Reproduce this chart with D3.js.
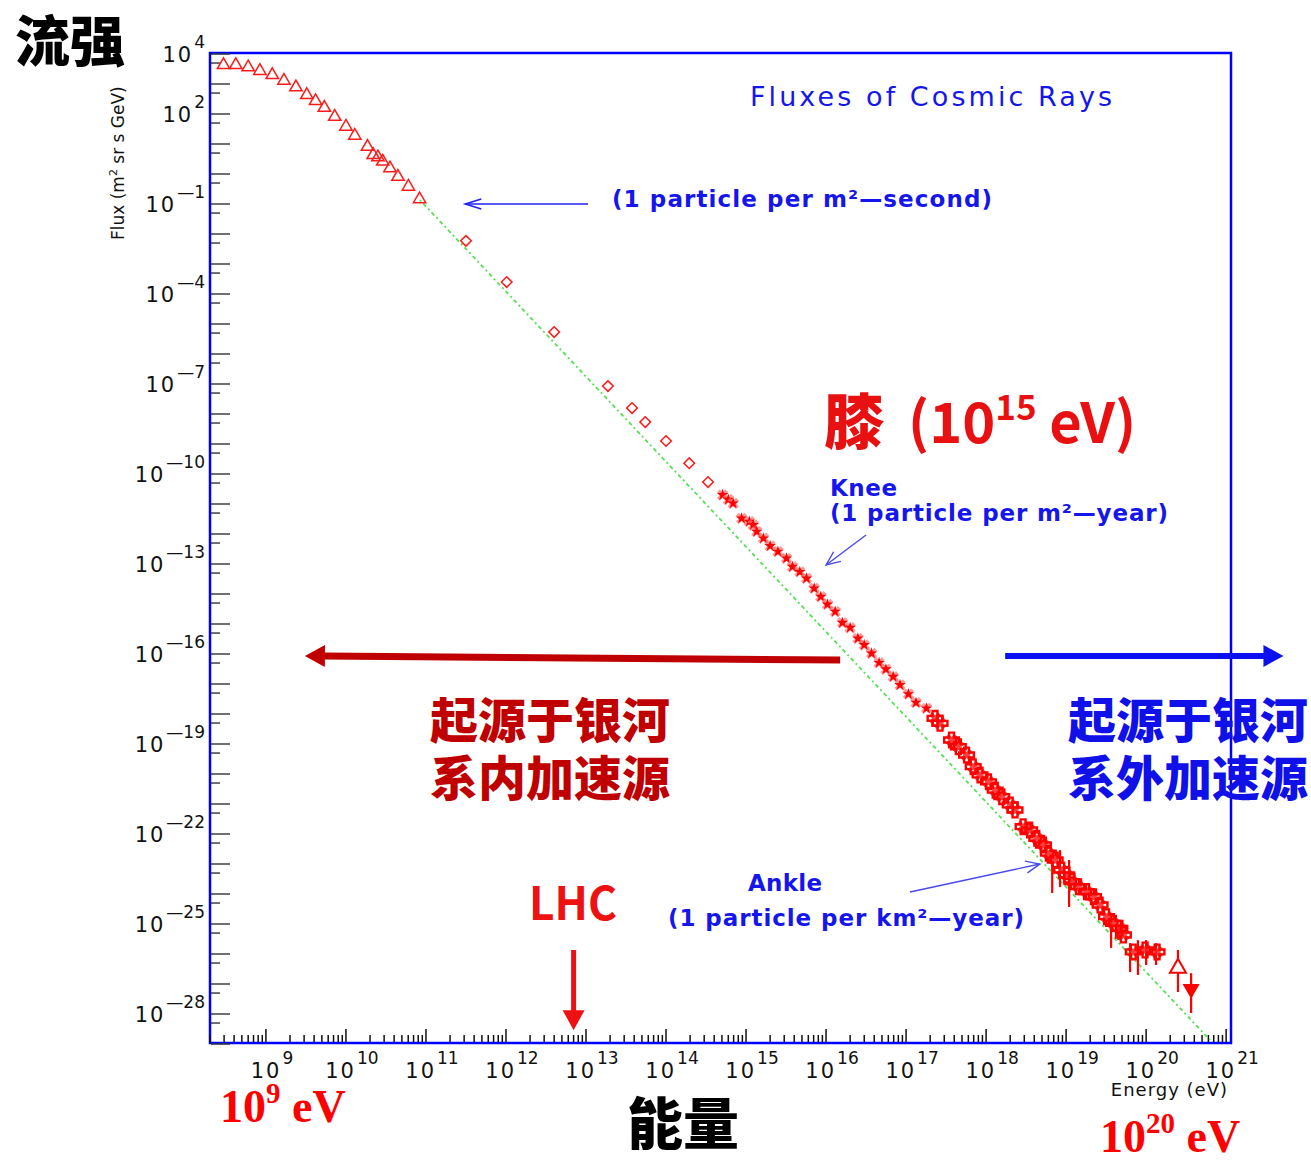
<!DOCTYPE html>
<html>
<head>
<meta charset="utf-8">
<script src="https://cdn.jsdelivr.net/npm/d3@7"></script>
<style>
  html, body { margin: 0; padding: 0; background: #fff; }
  #chart { width: 1311px; height: 1161px; }
</style>
</head>
<body>
<div id="chart"></div>
<script>
// ---- data (energy in eV, flux in 1/(m^2 sr s GeV)) ----

// low energy points, open triangles
const triEnergy = [2.95e8, 4.2e8, 6.0e8, 8.4e8, 1.2e9, 1.68e9, 2.37e9, 3.24e9, 4.17e9, 5.37e9, 7.24e9,
  1.0e10, 1.29e10, 1.86e10, 2.19e10, 2.51e10, 2.88e10, 3.55e10, 4.47e10, 6.03e10, 8.32e10];
const triFlux = [4.3e3, 4.3e3, 3.6e3, 2.75e3, 2.0e3, 1.29e3, 7.8e2, 4.3e2, 2.7e2, 1.62e2, 81,
  38, 19, 8.1, 4.3, 3.6, 2.6, 1.55, 0.81, 0.38, 0.145];

// direct measurements, open diamonds
const diaEnergy = [3.16e11, 1.02e12, 4.0e12, 1.88e13, 3.76e13, 5.5e13, 1.0e14, 1.95e14, 3.35e14];
const diaFlux = [5.9e-3, 2.5e-4, 5.4e-6, 8.5e-8, 1.58e-8, 5.4e-9, 1.26e-9, 2.3e-10, 5.4e-11];

// knee region, filled stars
const starEnergy = [5.1e14, 6.0e14, 6.9e14, 8.8e14, 1.1e15, 1.23e15, 1.36e15, 1.65e15, 2.0e15, 2.5e15,
  3.2e15, 3.8e15, 4.7e15, 5.7e15, 7.1e15, 8.6e15, 1.04e16, 1.3e16, 1.6e16, 2.0e16,
  2.5e16, 3.0e16, 3.7e16, 4.6e16, 5.6e16, 6.9e16, 8.4e16, 1.07e17, 1.33e17, 1.8e17];
const starFlux = [2.0e-11, 1.4e-11, 1.05e-11, 3.3e-12, 2.6e-12, 2.0e-12, 1.2e-12, 7.2e-13, 4.0e-13, 2.6e-13,
  1.55e-13, 8.1e-14, 5.5e-14, 3.3e-14, 1.55e-14, 8.1e-15, 4.5e-15, 2.6e-15, 1.1e-15, 7.5e-16,
  3.3e-16, 2.0e-16, 1.05e-16, 5.1e-17, 3.1e-17, 1.75e-17, 9.3e-18, 4.6e-18, 2.4e-18, 1.55e-18];

// air shower arrays, open crosses
const crossEnergy = [2.3e17, 2.66e17, 3.7e17, 4.5e17, 5.7e17, 6.9e17, 8.4e17, 1.07e18, 1.3e18, 1.57e18,
  2.0e18, 2.3e18, 2.9e18, 3.5e18, 4.3e18, 5.2e18, 6.0e18, 7.3e18, 8.8e18, 1.02e19,
  1.18e19, 1.43e19, 1.8e19, 2.2e19, 2.66e19, 3.2e19, 3.9e19, 4.7e19, 5.2e19, 6.9e19, 9.7e19, 1.37e20];
const crossFlux = [7.2e-19, 4.9e-19, 1.36e-19, 8.1e-20, 4.3e-20, 1.75e-20, 9.3e-21, 5.5e-21, 2.9e-21, 1.75e-21,
  9.3e-22, 6.3e-22, 1.75e-22, 1.36e-22, 7.2e-23, 4.3e-23, 2.3e-23, 1.36e-23, 6.3e-24, 4.3e-24,
  2.6e-24, 1.75e-24, 1.2e-24, 8.1e-25, 4.3e-25, 1.75e-25, 1.05e-25, 7.2e-26, 4.3e-26, 1.17e-26, 1.36e-26, 1.17e-26];

// error bars at the highest energies
const errEnergy = [6.7e18, 8.4e18, 1.09e19, 3.65e19, 4.5e19, 6.3e19, 7.9e19, 1.0e20, 1.33e20];
const errHigh = [9.3e-24, 2.9e-23, 1.36e-23, 1.36e-25, 9.3e-26, 2.3e-26, 2.9e-26, 2.9e-26, 2.3e-26];
const errLow = [1.08e-24, 1.7e-24, 3.7e-25, 1.6e-26, 2.9e-26, 2.5e-27, 2.0e-27, 4.3e-27, 4.3e-27];

// last two points
const tailEnergy = [2.5e20, 3.65e20];
const tailFlux = [3.4e-27, 6.8e-28];
const tailHigh = [1.36e-26, 2.3e-27];
const tailLow = [5.4e-28, 1.08e-28];
const tailShape = ['open', 'down'];

// E^-2.8 reference line
const fitEnergy = [8.4e10, 6.3e20];
const fitFlux = [1.36e-1, 1.35e-29];

// axis ticks
const xLabelExp = [9, 10, 11, 12, 13, 14, 15, 16, 17, 18, 19, 20, 21];
const yLabelExp = [4, 2, -1, -4, -7, -10, -13, -16, -19, -22, -25, -28];

// annotation arrows, [energy, flux] start -> end
const secondArrow = [[1.06e13, 1e-1], [3.1e11, 1e-1]];
const kneeArrow = [[3.16e16, 9.3e-13], [1.0e16, 9.3e-14]];
const ankleArrow = [[1.12e17, 1.17e-24], [4.7e18, 1e-23]];
const galacticArrow = [[1.5e16, 6.3e-17], [3.07e9, 8.6e-17]];
const extraArrow = [[1.73e18, 8.6e-17], [5.2e21, 8.6e-17]];
const lhcArrow = [[7e12, 1.36e-26], [7e12, 2.9e-29]];

// ---- drawing ----
const W = 1311, H = 1161;
const frame = { left: 210, right: 1231, top: 53, bottom: 1043 };
const ROOTF = '"DejaVu Sans", "Liberation Sans", sans-serif';
const CJK = '"Noto Sans CJK SC", "Noto Sans", sans-serif';
const SERIF = '"Liberation Serif", "DejaVu Serif", serif';

const svg = d3.select('#chart').append('svg')
  .attr('width', W).attr('height', H)
  .style('background', '#fff');

const x = d3.scaleLog().domain([2e8, 1.15e21]).range([frame.left, frame.right]);
const y = d3.scaleLog().domain([1e4, 1e-29]).range([54, 1044]);

svg.append('clipPath').attr('id', 'plot-clip')
  .append('rect')
  .attr('x', frame.left).attr('y', frame.top)
  .attr('width', frame.right - frame.left).attr('height', frame.bottom - frame.top);

// frame
svg.append('rect')
  .attr('x', frame.left).attr('y', frame.top)
  .attr('width', frame.right - frame.left).attr('height', frame.bottom - frame.top)
  .attr('fill', 'none').attr('stroke', '#0000ff').attr('stroke-width', 2.5);

// y ticks: long at each decade, short at half decade below
const yTicks = svg.append('g').attr('stroke', '#333');
for (let e = 4; e >= -29; e--) {
  const v = Math.pow(10, e);
  yTicks.append('line')
    .attr('x1', frame.left + 1).attr('x2', frame.left + 20)
    .attr('y1', y(v)).attr('y2', y(v)).attr('stroke-width', 1.4);
  if (e > -29) {
    yTicks.append('line')
      .attr('x1', frame.left + 1).attr('x2', frame.left + 10)
      .attr('y1', y(v * 0.5)).attr('y2', y(v * 0.5)).attr('stroke-width', 1.4);
  }
}

// x ticks: major at decades, minor 2..9
const xTicks = svg.append('g').attr('stroke', '#111');
for (let e = 8; e <= 21; e++) {
  for (let k = 1; k <= 9; k++) {
    const v = k * Math.pow(10, e);
    if (v < x.domain()[0] || v > x.domain()[1]) continue;
    const len = k === 1 ? 14 : 8;
    xTicks.append('line')
      .attr('x1', x(v)).attr('x2', x(v))
      .attr('y1', frame.bottom - 1).attr('y2', frame.bottom - len)
      .attr('stroke-width', 1.5);
  }
}

// tick labels
function powerLabel(g, px, py, exp, anchor) {
  const t = g.append('text')
    .attr('x', px).attr('y', py)
    .attr('text-anchor', anchor)
    .attr('font-family', ROOTF).attr('font-size', 21)
    .attr('fill', '#111');
  t.append('tspan').attr('letter-spacing', 2).text('10');
  t.append('tspan')
    .attr('dy', -14).attr('dx', 1).attr('font-size', 17)
    .text(exp < 0 ? '\u2014' + Math.abs(exp) : String(exp));
}
const labels = svg.append('g');
yLabelExp.forEach(e => powerLabel(labels, 205, y(Math.pow(10, e)) + 8, e, 'end'));
xLabelExp.forEach(e => powerLabel(labels, x(Math.pow(10, e)) + 6, 1078, e, 'middle'));

// axis titles
svg.append('text')
  .attr('x', 1228).attr('y', 1096).attr('text-anchor', 'end')
  .attr('font-family', ROOTF).attr('font-size', 18).attr('letter-spacing', 1)
  .attr('fill', '#111').text('Energy (eV)');

const yTitle = svg.append('text')
  .attr('transform', 'translate(124,240) rotate(-90)')
  .attr('font-family', ROOTF).attr('font-size', 17).attr('fill', '#111');
yTitle.append('tspan').text('Flux (m');
yTitle.append('tspan').attr('dy', -7).attr('font-size', 11).text('2');
yTitle.append('tspan').attr('dy', 7).text(' sr s GeV)');

// plot contents
const plot = svg.append('g').attr('clip-path', 'url(#plot-clip)');

const fitLine = d3.line().x(d => x(d[0])).y(d => y(d[1]));
plot.append('path')
  .datum(d3.zip(fitEnergy, fitFlux))
  .attr('d', fitLine)
  .attr('fill', 'none').attr('stroke', '#55e055').attr('stroke-width', 1.8)
  .attr('stroke-dasharray', '2,3,4,3');

// error bars
plot.append('g').selectAll('line')
  .data(d3.zip(errEnergy, errLow, errHigh).concat(d3.zip(tailEnergy, tailLow, tailHigh)))
  .join('line')
  .attr('x1', d => x(d[0])).attr('x2', d => x(d[0]))
  .attr('y1', d => y(d[1])).attr('y2', d => y(d[2]))
  .attr('stroke', '#ff0000').attr('stroke-width', 2.2);

const sym = (type, size) => d3.symbol().type(type).size(size)();

plot.append('g').selectAll('path')
  .data(d3.zip(triEnergy, triFlux))
  .join('path')
  .attr('transform', d => `translate(${x(d[0])},${y(d[1])})`)
  .attr('d', sym(d3.symbolTriangle, 66))
  .attr('fill', 'none').attr('stroke', '#ff1a1a').attr('stroke-width', 1.5);

plot.append('g').selectAll('path')
  .data(d3.zip(diaEnergy, diaFlux))
  .join('path')
  .attr('transform', d => `translate(${x(d[0])},${y(d[1])}) rotate(45)`)
  .attr('d', sym(d3.symbolSquare, 56))
  .attr('fill', 'none').attr('stroke', '#ff1a1a').attr('stroke-width', 1.5);

// filled band under the open crosses
plot.append('g').selectAll('path')
  .data(d3.zip(crossEnergy, crossFlux))
  .join('path')
  .attr('transform', d => `translate(${x(d[0])},${y(d[1])}) rotate(45)`)
  .attr('d', sym(d3.symbolCross, 90))
  .attr('fill', '#ff2020').attr('opacity', 0.85);

plot.append('g').selectAll('path')
  .data(d3.zip(crossEnergy, crossFlux))
  .join('path')
  .attr('transform', d => `translate(${x(d[0])},${y(d[1])})`)
  .attr('d', sym(d3.symbolCross, 120))
  .attr('fill', 'none')
  .attr('stroke', '#ff0000').attr('stroke-width', 2.4);

const stars = plot.append('g').selectAll('g')
  .data(d3.zip(starEnergy, starFlux))
  .join('g')
  .attr('transform', d => `translate(${x(d[0])},${y(d[1])})`);
stars.append('path')
  .attr('d', sym(d3.symbolCross, 80))
  .attr('transform', 'rotate(45)')
  .attr('fill', '#ff7070').attr('opacity', 0.7);
stars.append('path')
  .attr('d', sym(d3.symbolStar, 42))
  .attr('fill', '#ff0000');

plot.append('g').selectAll('path')
  .data(d3.zip(tailEnergy, tailFlux, tailShape))
  .join('path')
  .attr('transform', d => `translate(${x(d[0])},${y(d[1])})` + (d[2] === 'down' ? ' rotate(180)' : ''))
  .attr('d', d => sym(d3.symbolTriangle, d[2] === 'down' ? 80 : 110))
  .attr('fill', d => d[2] === 'down' ? '#ff0000' : '#fff')
  .attr('stroke', '#ff0000').attr('stroke-width', 2);

// ---- annotations ----
function arrow(pts, color, width, head, headWidth, filled) {
  const [x1, y1] = [x(pts[0][0]), y(pts[0][1])];
  const [x2, y2] = [x(pts[1][0]), y(pts[1][1])];
  const a = Math.atan2(y2 - y1, x2 - x1);
  const bx = x2 - head * Math.cos(a), by = y2 - head * Math.sin(a);
  const nx = -Math.sin(a) * headWidth / 2, ny = Math.cos(a) * headWidth / 2;
  const g = svg.append('g');
  g.append('line')
    .attr('x1', x1).attr('y1', y1)
    .attr('x2', filled ? bx + Math.cos(a) : x2).attr('y2', filled ? by + Math.sin(a) : y2)
    .attr('stroke', color).attr('stroke-width', width);
  if (filled) {
    g.append('path')
      .attr('d', `M${x2},${y2}L${bx + nx},${by + ny}L${bx - nx},${by - ny}Z`)
      .attr('fill', color);
  } else {
    g.append('path')
      .attr('d', `M${bx + nx},${by + ny}L${x2},${y2}L${bx - nx},${by - ny}`)
      .attr('fill', 'none').attr('stroke', color).attr('stroke-width', width);
  }
}
arrow(secondArrow, '#2020ee', 1.6, 16, 10, false);
arrow(kneeArrow, '#4848f0', 1.4, 14, 12, false);
arrow(ankleArrow, '#4848f0', 1.4, 14, 12, false);
arrow(galacticArrow, '#c00000', 7, 20, 22, true);
arrow(extraArrow, '#0a10ee', 6, 20, 22, true);
arrow(lhcArrow, '#ee1111', 5, 20, 22, true);

function rootText(px, py, str, len, size) {
  return svg.append('text')
    .attr('x', px).attr('y', py)
    .attr('font-family', ROOTF).attr('font-size', size || 23)
    .attr('fill', '#1515ee')
    .attr('textLength', len).attr('lengthAdjust', 'spacing')
    .text(str);
}
rootText(750, 106, 'Fluxes of Cosmic Rays', 362, 27);
rootText(612, 207, '(1 particle per m\u00b2\u2014second)', 380).attr('font-weight', 'bold');
rootText(830, 496, 'Knee', 67).attr('font-weight', 'bold');
rootText(830, 521, '(1 particle per m\u00b2\u2014year)', 338).attr('font-weight', 'bold');
rootText(748, 891, 'Ankle', 74).attr('font-weight', 'bold');
rootText(668, 926, '(1 particle per km\u00b2\u2014year)', 356).attr('font-weight', 'bold');

function bigText(px, py, str, color, size, family) {
  return svg.append('text')
    .attr('x', px).attr('y', py)
    .attr('font-family', family || CJK).attr('font-size', size)
    .attr('font-weight', 900).attr('fill', color)
    .text(str);
}
bigText(15, 61, '流强', '#000', 55);
bigText(627, 1144, '能量', '#000', 56);
bigText(430, 738, '起源于银河', '#c00000', 48);
bigText(430, 796, '系内加速源', '#c00000', 48);
bigText(1068, 738, '起源于银河', '#1010e8', 48);
bigText(1068, 796, '系外加速源', '#1010e8', 48);
bigText(529, 920, 'LHC', '#ee1111', 46).attr('font-weight', 700)
  .attr('textLength', 88).attr('lengthAdjust', 'spacingAndGlyphs');

bigText(824, 444, '膝', '#e81010', 60);
const knee = bigText(908, 443, '(10', '#e81010', 56).attr('font-weight', 700);
knee.append('tspan').attr('dy', -23).attr('font-size', 35).text('15');
knee.append('tspan').attr('dy', 23).text(' eV)');

const e9 = bigText(220, 1122, '10', '#ff0000', 46, SERIF).attr('font-weight', 700);
e9.append('tspan').attr('dy', -19).attr('font-size', 29).text('9');
e9.append('tspan').attr('dy', 19).text(' eV');

const e20 = bigText(1100, 1152, '10', '#ff0000', 46, SERIF).attr('font-weight', 700);
e20.append('tspan').attr('dy', -19).attr('font-size', 29).text('20');
e20.append('tspan').attr('dy', 19).text(' eV');
</script>
</body>
</html>
